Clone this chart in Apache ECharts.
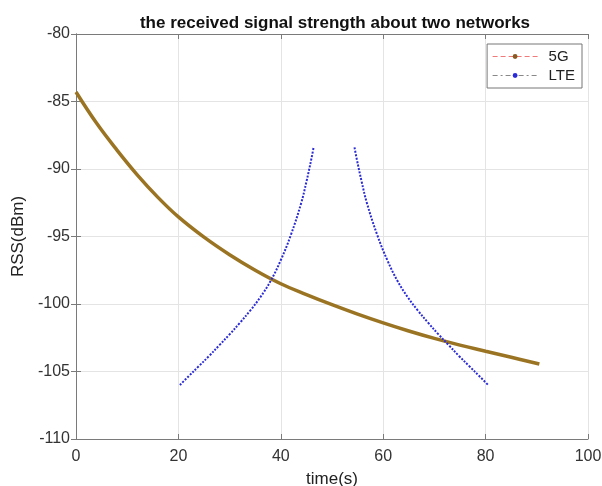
<!DOCTYPE html>
<html>
<head>
<meta charset="utf-8">
<script src="https://cdn.jsdelivr.net/npm/echarts@6/dist/echarts.min.js"></script>
<style>
    html, body { margin: 0; padding: 0; background: #fff; }
    #chart { width: 602px; height: 486px; }
</style>
</head>
<body>
<div id="chart"></div>
<script>
// 5G received signal strength
var time5G = [0, 4, 8, 12, 16, 20, 25, 30, 35, 40, 45, 50, 55, 60, 65, 70, 75, 80, 85, 90.5]
var rss5G = [-84.3, -86.6, -88.6, -90.45, -92.1, -93.55, -95.05, -96.35, -97.5, -98.5, -99.3, -100.05, -100.75, -101.4, -102.0, -102.55, -103.05, -103.5, -103.95, -104.45]

// LTE, two branches on either side of the cell
var timeLTE1 = [20.3, 22, 24, 26, 28, 30, 32, 34, 36, 38, 40, 42, 44, 45, 46, 46.4]
var rssLTE1 = [-106.0, -105.35, -104.6, -103.85, -103.05, -102.25, -101.4, -100.5, -99.5, -98.3, -96.75, -94.85, -92.5, -90.95, -89.2, -88.4]
var timeLTE2 = [54.4, 54.8, 55.8, 56.8, 58.8, 60.8, 62.8, 64.8, 66.8, 68.8, 70.8, 72.8, 74.8, 76.8, 78.8, 80.5]
var rssLTE2 = [-88.4, -89.2, -90.95, -92.5, -94.85, -96.75, -98.3, -99.5, -100.5, -101.4, -102.25, -103.05, -103.85, -104.6, -105.35, -106.0]

function pairs(xs, ys) {
    return xs.map(function (x, i) { return [x, ys[i]] })
}

var lteData = pairs(timeLTE1, rssLTE1).concat([[50.4, null]]).concat(pairs(timeLTE2, rssLTE2))

var font = 'Liberation Sans, Arial, sans-serif'
var axisColor = '#7a7a7a'

var chart = echarts.init(document.getElementById('chart'))
chart.setOption({
    animation: false,
    textStyle: { fontFamily: font },
    title: {
        text: 'the received signal strength about two networks',
        left: 330,
        textAlign: 'center',
        top: 10,
        textStyle: { fontSize: 17, fontWeight: 'bold', color: '#111', fontFamily: font }
    },
    // keep the plot box exactly where it is in the picture
    grid: { left: 76, right: 14, top: 34, bottom: 47, outerBoundsMode: 'none', containLabel: false },
    legend: {
        orient: 'vertical',
        right: 20,
        top: 44,
        backgroundColor: '#fff',
        borderColor: '#777',
        borderWidth: 1,
        borderRadius: 0,
        padding: [5, 7, 5, 5],
        itemGap: 4,
        itemWidth: 45,
        itemHeight: 6,
        textStyle: { fontSize: 15, color: '#222', fontFamily: font, padding: [0, 0, 0, 6] },
        data: [
            {
                name: '5G',
                itemStyle: { color: '#8a5a20' },
                lineStyle: { color: '#f07a7a', type: [5, 3], width: 1 }
            },
            {
                name: 'LTE',
                itemStyle: { color: '#2a2ad8' },
                lineStyle: { color: '#888', type: [5, 3, 2, 3], width: 1 }
            }
        ]
    },
    xAxis: [{
        type: 'value',
        min: 0,
        max: 100,
        interval: 20,
        name: 'time(s)',
        nameLocation: 'middle',
        nameGap: 32,
        nameTextStyle: { fontSize: 17, color: '#222', fontFamily: font },
        axisLine: { show: true, lineStyle: { color: axisColor } },
        axisTick: { show: true, inside: true, length: 5, lineStyle: { color: axisColor } },
        axisLabel: { fontSize: 16, color: '#333', margin: 10, fontFamily: font },
        splitLine: { show: true, lineStyle: { color: '#e4e4e4' } }
    }, {
        type: 'value',
        position: 'top',
        min: 0,
        max: 100,
        interval: 20,
        axisLine: { show: true, lineStyle: { color: axisColor } },
        axisTick: { show: true, inside: true, length: 5, lineStyle: { color: axisColor } },
        axisLabel: { show: false },
        splitLine: { show: false }
    }],
    yAxis: [{
        type: 'value',
        min: -110,
        max: -80,
        interval: 5,
        name: 'RSS(dBm)',
        nameLocation: 'middle',
        nameGap: 36,
        nameTextStyle: { fontSize: 17, color: '#222', fontFamily: font },
        axisLine: { show: true, lineStyle: { color: axisColor } },
        axisTick: { show: true, inside: true, length: 5, lineStyle: { color: axisColor } },
        axisLabel: { fontSize: 16, color: '#333', margin: 6, fontFamily: font },
        splitLine: { show: true, lineStyle: { color: '#e4e4e4' } }
    }, {
        type: 'value',
        position: 'right',
        min: -110,
        max: -80,
        interval: 5,
        axisLine: { show: true, lineStyle: { color: axisColor } },
        axisTick: { show: true, inside: true, length: 5, lineStyle: { color: axisColor } },
        axisLabel: { show: false },
        splitLine: { show: false }
    }],
    series: [{
        name: '5G',
        type: 'line',
        smooth: 0.4,
        symbol: 'circle',
        symbolSize: 4,
        showSymbol: false,
        data: pairs(time5G, rss5G),
        lineStyle: { color: '#9a7422', width: 3.5 },
        itemStyle: { color: '#8a5a20' }
    }, {
        name: 'LTE',
        type: 'line',
        smooth: 0.4,
        symbol: 'circle',
        symbolSize: 4,
        showSymbol: false,
        connectNulls: false,
        data: lteData,
        lineStyle: { color: '#2b2bd6', width: 2, type: [2, 1.5] },
        itemStyle: { color: '#2a2ad8' }
    }]
})
</script>
</body>
</html>
